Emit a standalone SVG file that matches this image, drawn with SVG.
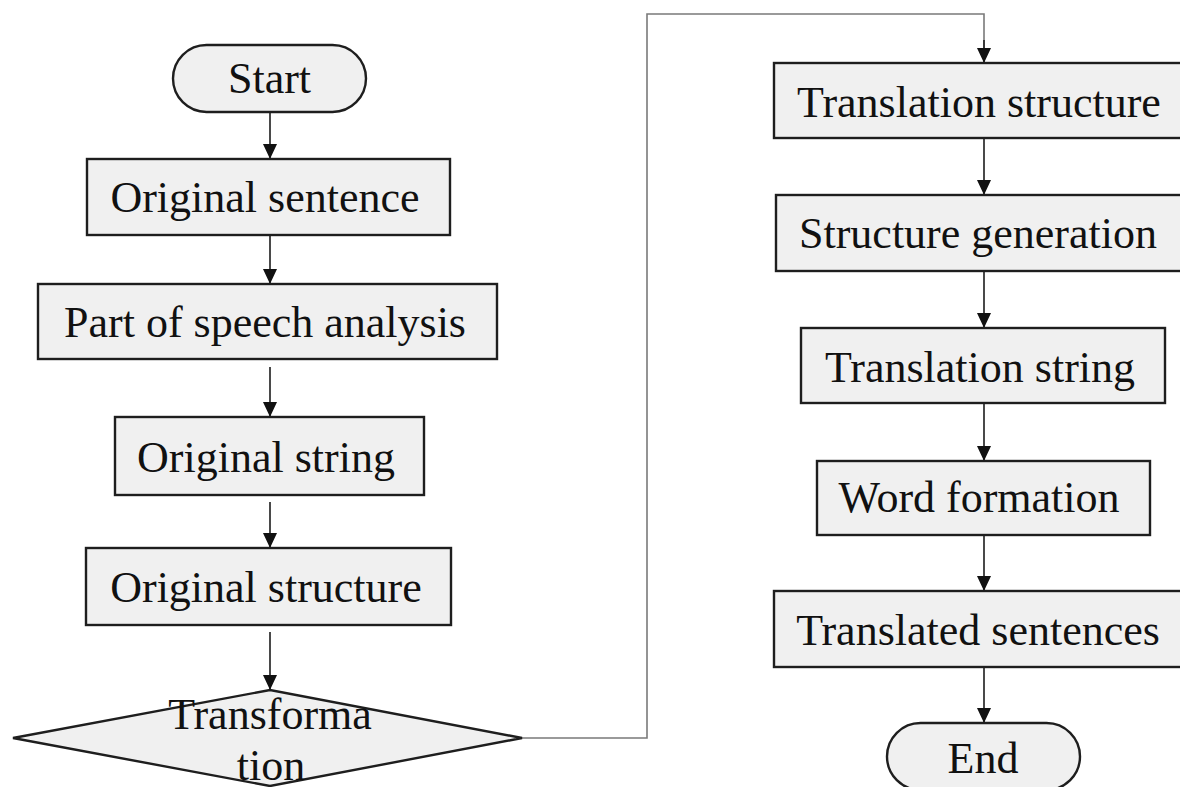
<svg xmlns="http://www.w3.org/2000/svg" width="1180" height="787" viewBox="0 0 1180 787">
  <defs>
    <style>
      .box { fill: #f0f0f0; stroke: #1e1e1e; stroke-width: 2.4; }
      .lbl { font-family: "Liberation Serif", "Times New Roman", serif; font-size: 44px; fill: #111; text-anchor: middle; }
      .arr { fill: none; stroke: #2a2a2a; stroke-width: 1.7; marker-end: url(#ah); }
      .long { fill: none; stroke: #7a7a7a; stroke-width: 1.6; }
    </style>
    <marker id="ah" viewBox="0 0 15 14" markerWidth="15" markerHeight="14" refX="15" refY="7" orient="auto" markerUnits="userSpaceOnUse">
      <path d="M0,0 L15,7 L0,14 z" fill="#111"/>
    </marker>
  </defs>
  <rect width="1180" height="787" fill="#fff"/>

  <g id="connectors">
    <line class="arr" x1="270" y1="112" x2="270" y2="159"/>
    <line class="arr" x1="270" y1="235" x2="270" y2="284"/>
    <line class="arr" x1="270" y1="367" x2="270" y2="417"/>
    <line class="arr" x1="270" y1="502" x2="270" y2="548"/>
    <line class="arr" x1="270" y1="632" x2="270" y2="690"/>
    <polyline class="long" points="522,738 647,738 647,14 984,14 984,48"/>
    <line class="arr" x1="984" y1="40" x2="984" y2="63"/>
    <line class="arr" x1="984" y1="138" x2="984" y2="195"/>
    <line class="arr" x1="984" y1="271" x2="984" y2="328"/>
    <line class="arr" x1="984" y1="403" x2="984" y2="461"/>
    <line class="arr" x1="984" y1="535" x2="984" y2="591"/>
    <line class="arr" x1="984" y1="667" x2="984" y2="723"/>
  </g>

  <g id="start">
    <rect class="box" x="173" y="45" width="193" height="67" rx="33.5" ry="33.5"/>
    <text class="lbl" x="269.5" y="93">Start</text>
  </g>
  <g id="original-sentence">
    <rect class="box" x="87" y="159" width="363" height="76"/>
    <text class="lbl" x="265" y="212">Original sentence</text>
  </g>
  <g id="pos-analysis">
    <rect class="box" x="38" y="284" width="459" height="75"/>
    <text class="lbl" x="265" y="337">Part of speech analysis</text>
  </g>
  <g id="original-string">
    <rect class="box" x="115" y="417" width="309" height="78"/>
    <text class="lbl" x="266" y="472">Original string</text>
  </g>
  <g id="original-structure">
    <rect class="box" x="86" y="548" width="365" height="77"/>
    <text class="lbl" x="266" y="602">Original structure</text>
  </g>
  <g id="transformation">
    <polygon class="box" points="13,738 270,690 522,738 270,786"/>
    <text class="lbl" x="270" y="729">Transforma</text>
    <text class="lbl" x="271" y="780">tion</text>
  </g>

  <g id="translation-structure">
    <rect class="box" x="774" y="63" width="420" height="75"/>
    <text class="lbl" x="979" y="117">Translation structure</text>
  </g>
  <g id="structure-generation">
    <rect class="box" x="776" y="195" width="416" height="76"/>
    <text class="lbl" x="978" y="248">Structure generation</text>
  </g>
  <g id="translation-string">
    <rect class="box" x="801" y="328" width="364" height="75"/>
    <text class="lbl" x="980" y="382">Translation string</text>
  </g>
  <g id="word-formation">
    <rect class="box" x="817" y="461" width="333" height="74"/>
    <text class="lbl" x="979" y="512">Word formation</text>
  </g>
  <g id="translated-sentences">
    <rect class="box" x="774" y="591" width="420" height="76"/>
    <text class="lbl" x="978" y="645">Translated sentences</text>
  </g>
  <g id="end">
    <rect class="box" x="887" y="723" width="193" height="67" rx="33.5" ry="33.5"/>
    <text class="lbl" x="983" y="773">End</text>
  </g>
</svg>
